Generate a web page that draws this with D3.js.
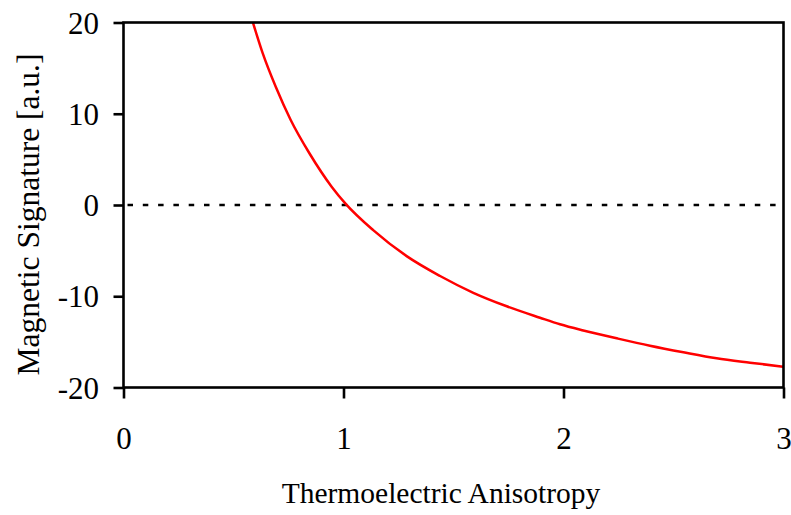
<!DOCTYPE html>
<html>
<head>
<meta charset="utf-8">
<script src="https://cdn.jsdelivr.net/npm/d3@7"></script>
<style>
  html, body { margin: 0; padding: 0; background: #fff; }
  svg { display: block; }
  text { font-family: "Liberation Serif", "Times New Roman", serif; fill: #000; }
</style>
</head>
<body>
<svg id="chart" width="791" height="515"></svg>
<script>
// Data
const anisotropy = [0.589, 0.633, 0.692, 0.760, 0.845, 0.946, 1.011, 1.135, 1.287, 1.439, 1.590, 1.742, 1.893, 1.984, 2.090, 2.242, 2.393, 2.545, 2.696, 2.848, 3.0];
const signature  = [19.95, 16.62, 12.96, 9.32, 5.67, 2.01, 0.1, -2.75, -5.6, -7.78, -9.62, -11.1, -12.35, -13.07, -13.75, -14.61, -15.42, -16.14, -16.80, -17.28, -17.72];
const xTicks = [0, 1, 2, 3];
const yTicks = [-20, -10, 0, 10, 20];
const xLabel = "Thermoelectric Anisotropy";
const yLabel = "Magnetic Signature [a.u.]";

const svg = d3.select("#chart");
const mLeft = 123.5, mRight = 783.5, mTop = 22.5, mBottom = 387.5;

const x = d3.scaleLinear().domain([0, 3]).range([mLeft, mRight]);
const y = d3.scaleLinear().domain([-20, 20]).range([mBottom, mTop]);

// clip for curve
svg.append("defs").append("clipPath").attr("id", "clip")
  .append("rect").attr("x", mLeft).attr("y", mTop).attr("width", mRight - mLeft).attr("height", mBottom - mTop);

// zero dashed line
svg.append("line")
  .attr("x1", x(0) + 4).attr("x2", x(3) - 4)
  .attr("y1", y(0)).attr("y2", y(0))
  .attr("stroke", "#000").attr("stroke-width", 2.6)
  .attr("stroke-dasharray", "5.5,9.8");

// curve
const pts = anisotropy.map((v, i) => [v, signature[i]]);
svg.append("path")
  .datum(pts)
  .attr("clip-path", "url(#clip)")
  .attr("fill", "none")
  .attr("stroke", "#ff0000")
  .attr("stroke-width", 2.5)
  .attr("d", d3.line().x(d => x(d[0])).y(d => y(d[1])).curve(d3.curveMonotoneX));

// frame
svg.append("rect")
  .attr("x", mLeft).attr("y", mTop).attr("width", mRight - mLeft).attr("height", mBottom - mTop)
  .attr("fill", "none").attr("stroke", "#000").attr("stroke-width", 2.6);

// axes
const fmt = d => String(d);
const yAxis = d3.axisLeft(y).tickValues(yTicks).tickSize(10).tickSizeOuter(0).tickPadding(14.5).tickFormat(fmt);
const gy = svg.append("g").attr("transform", `translate(${mLeft},0)`).call(yAxis);
gy.select(".domain").remove();
gy.selectAll(".tick line").attr("stroke", "#000").attr("stroke-width", 2.6);
gy.selectAll(".tick text").attr("font-size", 31).attr("font-family", "Liberation Serif").attr("dy", "0.34em");

const xAxis = d3.axisBottom(x).tickValues(xTicks).tickSize(11).tickSizeOuter(0).tickPadding(28).tickFormat(fmt);
const gx = svg.append("g").attr("transform", `translate(0,${mBottom})`).call(xAxis);
gx.select(".domain").remove();
gx.selectAll(".tick line").attr("stroke", "#000").attr("stroke-width", 2.6);
gx.selectAll(".tick text").attr("font-size", 31).attr("font-family", "Liberation Serif");

// axis titles
svg.append("text")
  .attr("x", 441).attr("y", 503)
  .attr("text-anchor", "middle").attr("font-size", 29.5)
  .text(xLabel);

svg.append("text")
  .attr("transform", `translate(39,214.5) rotate(-90)`)
  .attr("text-anchor", "middle").attr("font-size", 31.5)
  .text(yLabel);
</script>
</body>
</html>
